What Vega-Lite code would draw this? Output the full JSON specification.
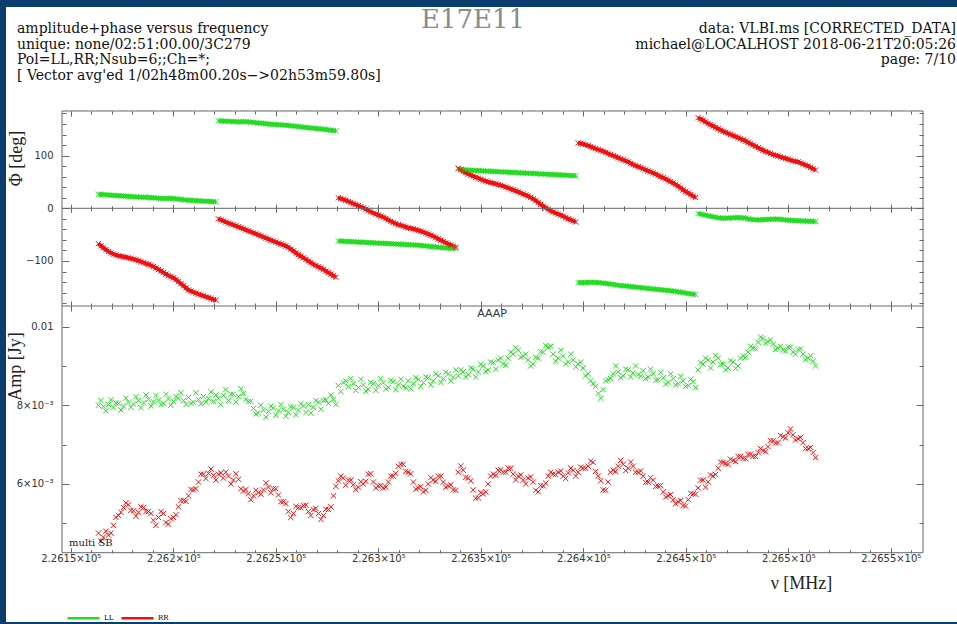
{
"$schema": "https://vega.github.io/schema/vega-lite/v6.json",
"background": "#0b3d6e",
"padding": {"left": 5, "top": 7, "right": 0, "bottom": 2},
"spacing": 0,
"bounds": "flush",
"config": {
  "view": {"fill": "white", "stroke": null},
  "axis": {"labelFont": "DejaVu Sans", "labelFontSize": 10, "labelColor": "#333", "tickColor": "#666", "tickWidth": 1, "domain": false, "grid": false, "titleFont": "Liberation Serif", "titleFontSize": 18, "titleFontWeight": "normal", "titleColor": "#222", "labelFlush": false, "labelOverlap": false}
},
"resolve": {"scale": {"color": "independent"}},
"datasets": {
"chan": [
{"f":226163.5,"pol":"LL","sb":1,"ph":26.5,"amp":0.00800},{"f":226165.9,"pol":"LL","sb":1,"ph":26.0,"amp":0.00797},{"f":226168.4,"pol":"LL","sb":1,"ph":25.2,"amp":0.00802},{"f":226170.8,"pol":"LL","sb":1,"ph":24.5,"amp":0.00795},{"f":226173.3,"pol":"LL","sb":1,"ph":24.0,"amp":0.00805},{"f":226175.7,"pol":"LL","sb":1,"ph":23.3,"amp":0.00798},{"f":226178.1,"pol":"LL","sb":1,"ph":22.6,"amp":0.00808},{"f":226180.6,"pol":"LL","sb":1,"ph":22.0,"amp":0.00803},{"f":226183.0,"pol":"LL","sb":1,"ph":21.5,"amp":0.00812},{"f":226185.5,"pol":"LL","sb":1,"ph":21.0,"amp":0.00806},{"f":226187.9,"pol":"LL","sb":1,"ph":20.6,"amp":0.00815},{"f":226190.3,"pol":"LL","sb":1,"ph":20.0,"amp":0.00809},{"f":226192.8,"pol":"LL","sb":1,"ph":19.2,"amp":0.00813},{"f":226195.2,"pol":"LL","sb":1,"ph":18.6,"amp":0.00805},{"f":226197.6,"pol":"LL","sb":1,"ph":19.0,"amp":0.00816},{"f":226200.1,"pol":"LL","sb":1,"ph":18.5,"amp":0.00810},{"f":226202.5,"pol":"LL","sb":1,"ph":17.4,"amp":0.00818},{"f":226205.0,"pol":"LL","sb":1,"ph":16.2,"amp":0.00812},{"f":226207.4,"pol":"LL","sb":1,"ph":15.5,"amp":0.00820},{"f":226209.8,"pol":"LL","sb":1,"ph":14.8,"amp":0.00808},{"f":226212.3,"pol":"LL","sb":1,"ph":14.3,"amp":0.00815},{"f":226214.7,"pol":"LL","sb":1,"ph":13.8,"amp":0.00822},{"f":226217.2,"pol":"LL","sb":1,"ph":13.2,"amp":0.00817},{"f":226219.6,"pol":"LL","sb":1,"ph":12.6,"amp":0.00810},
{"f":226222.0,"pol":"LL","sb":2,"ph":166,"amp":0.00818},{"f":226224.4,"pol":"LL","sb":2,"ph":165.5,"amp":0.00825},{"f":226226.9,"pol":"LL","sb":2,"ph":165,"amp":0.00812},{"f":226229.3,"pol":"LL","sb":2,"ph":164.5,"amp":0.00828},{"f":226231.8,"pol":"LL","sb":2,"ph":164,"amp":0.00822},{"f":226234.2,"pol":"LL","sb":2,"ph":164.5,"amp":0.00830},{"f":226236.6,"pol":"LL","sb":2,"ph":164,"amp":0.00810},{"f":226239.1,"pol":"LL","sb":2,"ph":163,"amp":0.00792},{"f":226241.5,"pol":"LL","sb":2,"ph":162,"amp":0.00780},{"f":226244.0,"pol":"LL","sb":2,"ph":161,"amp":0.00788},{"f":226246.4,"pol":"LL","sb":2,"ph":160,"amp":0.00784},{"f":226248.8,"pol":"LL","sb":2,"ph":159,"amp":0.00793},{"f":226251.3,"pol":"LL","sb":2,"ph":158.5,"amp":0.00786},{"f":226253.7,"pol":"LL","sb":2,"ph":158,"amp":0.00790},{"f":226256.1,"pol":"LL","sb":2,"ph":157,"amp":0.00782},{"f":226258.6,"pol":"LL","sb":2,"ph":156,"amp":0.00795},{"f":226261.0,"pol":"LL","sb":2,"ph":155,"amp":0.00788},{"f":226263.5,"pol":"LL","sb":2,"ph":154,"amp":0.00798},{"f":226265.9,"pol":"LL","sb":2,"ph":153,"amp":0.00802},{"f":226268.3,"pol":"LL","sb":2,"ph":152,"amp":0.00795},{"f":226270.8,"pol":"LL","sb":2,"ph":151,"amp":0.00808},{"f":226273.2,"pol":"LL","sb":2,"ph":150,"amp":0.00812},{"f":226275.7,"pol":"LL","sb":2,"ph":149,"amp":0.00805},{"f":226278.1,"pol":"LL","sb":2,"ph":147.5,"amp":0.00815},
{"f":226280.5,"pol":"LL","sb":3,"ph":-62,"amp":0.00850},{"f":226282.9,"pol":"LL","sb":3,"ph":-62.5,"amp":0.00858},{"f":226285.4,"pol":"LL","sb":3,"ph":-63,"amp":0.00848},{"f":226287.8,"pol":"LL","sb":3,"ph":-63.5,"amp":0.00855},{"f":226290.3,"pol":"LL","sb":3,"ph":-64,"amp":0.00845},{"f":226292.7,"pol":"LL","sb":3,"ph":-64.5,"amp":0.00852},{"f":226295.1,"pol":"LL","sb":3,"ph":-65,"amp":0.00840},{"f":226297.6,"pol":"LL","sb":3,"ph":-65.5,"amp":0.00855},{"f":226300.0,"pol":"LL","sb":3,"ph":-66,"amp":0.00850},{"f":226302.5,"pol":"LL","sb":3,"ph":-66.5,"amp":0.00857},{"f":226304.9,"pol":"LL","sb":3,"ph":-67,"amp":0.00845},{"f":226307.3,"pol":"LL","sb":3,"ph":-67.5,"amp":0.00860},{"f":226309.8,"pol":"LL","sb":3,"ph":-68,"amp":0.00852},{"f":226312.2,"pol":"LL","sb":3,"ph":-68.5,"amp":0.00848},{"f":226314.6,"pol":"LL","sb":3,"ph":-69,"amp":0.00862},{"f":226317.1,"pol":"LL","sb":3,"ph":-69.5,"amp":0.00855},{"f":226319.5,"pol":"LL","sb":3,"ph":-70,"amp":0.00866},{"f":226322.0,"pol":"LL","sb":3,"ph":-71,"amp":0.00858},{"f":226324.4,"pol":"LL","sb":3,"ph":-72,"amp":0.00870},{"f":226326.8,"pol":"LL","sb":3,"ph":-73,"amp":0.00862},{"f":226329.3,"pol":"LL","sb":3,"ph":-74,"amp":0.00875},{"f":226331.7,"pol":"LL","sb":3,"ph":-75,"amp":0.00868},{"f":226334.2,"pol":"LL","sb":3,"ph":-75.5,"amp":0.00880},{"f":226336.6,"pol":"LL","sb":3,"ph":-76,"amp":0.00872},
{"f":226339.0,"pol":"LL","sb":4,"ph":75,"amp":0.00875},{"f":226341.4,"pol":"LL","sb":4,"ph":73.5,"amp":0.00885},{"f":226343.9,"pol":"LL","sb":4,"ph":72.5,"amp":0.00878},{"f":226346.3,"pol":"LL","sb":4,"ph":72,"amp":0.00892},{"f":226348.8,"pol":"LL","sb":4,"ph":71.5,"amp":0.00885},{"f":226351.2,"pol":"LL","sb":4,"ph":71,"amp":0.00900},{"f":226353.6,"pol":"LL","sb":4,"ph":70.5,"amp":0.00890},{"f":226356.1,"pol":"LL","sb":4,"ph":70,"amp":0.00908},{"f":226358.5,"pol":"LL","sb":4,"ph":69.5,"amp":0.00915},{"f":226361.0,"pol":"LL","sb":4,"ph":69,"amp":0.00905},{"f":226363.4,"pol":"LL","sb":4,"ph":68.5,"amp":0.00920},{"f":226365.8,"pol":"LL","sb":4,"ph":68,"amp":0.00930},{"f":226368.3,"pol":"LL","sb":4,"ph":67.5,"amp":0.00940},{"f":226370.7,"pol":"LL","sb":4,"ph":67,"amp":0.00925},{"f":226373.1,"pol":"LL","sb":4,"ph":66.5,"amp":0.00915},{"f":226375.6,"pol":"LL","sb":4,"ph":66,"amp":0.00905},{"f":226378.0,"pol":"LL","sb":4,"ph":65.5,"amp":0.00920},{"f":226380.5,"pol":"LL","sb":4,"ph":65,"amp":0.00935},{"f":226382.9,"pol":"LL","sb":4,"ph":64.5,"amp":0.00948},{"f":226385.3,"pol":"LL","sb":4,"ph":64,"amp":0.00930},{"f":226387.8,"pol":"LL","sb":4,"ph":63.5,"amp":0.00920},{"f":226390.2,"pol":"LL","sb":4,"ph":63,"amp":0.00925},{"f":226392.7,"pol":"LL","sb":4,"ph":62.5,"amp":0.00910},{"f":226395.1,"pol":"LL","sb":4,"ph":62,"amp":0.00915},
{"f":226397.5,"pol":"LL","sb":5,"ph":-141,"amp":0.00905},{"f":226399.9,"pol":"LL","sb":5,"ph":-141,"amp":0.00895},{"f":226402.4,"pol":"LL","sb":5,"ph":-140.5,"amp":0.00880},{"f":226404.8,"pol":"LL","sb":5,"ph":-140.5,"amp":0.00855},{"f":226407.3,"pol":"LL","sb":5,"ph":-141,"amp":0.00830},{"f":226409.7,"pol":"LL","sb":5,"ph":-142,"amp":0.00840},{"f":226412.1,"pol":"LL","sb":5,"ph":-143,"amp":0.00865},{"f":226414.6,"pol":"LL","sb":5,"ph":-144.5,"amp":0.00880},{"f":226417.0,"pol":"LL","sb":5,"ph":-146,"amp":0.00885},{"f":226419.5,"pol":"LL","sb":5,"ph":-147,"amp":0.00875},{"f":226421.9,"pol":"LL","sb":5,"ph":-148,"amp":0.00890},{"f":226424.3,"pol":"LL","sb":5,"ph":-149,"amp":0.00882},{"f":226426.8,"pol":"LL","sb":5,"ph":-150,"amp":0.00878},{"f":226429.2,"pol":"LL","sb":5,"ph":-151,"amp":0.00888},{"f":226431.6,"pol":"LL","sb":5,"ph":-152,"amp":0.00872},{"f":226434.1,"pol":"LL","sb":5,"ph":-153,"amp":0.00880},{"f":226436.5,"pol":"LL","sb":5,"ph":-154,"amp":0.00865},{"f":226439.0,"pol":"LL","sb":5,"ph":-155,"amp":0.00870},{"f":226441.4,"pol":"LL","sb":5,"ph":-156,"amp":0.00858},{"f":226443.8,"pol":"LL","sb":5,"ph":-157,"amp":0.00868},{"f":226446.3,"pol":"LL","sb":5,"ph":-158.5,"amp":0.00855},{"f":226448.7,"pol":"LL","sb":5,"ph":-160,"amp":0.00862},{"f":226451.2,"pol":"LL","sb":5,"ph":-161.5,"amp":0.00850},{"f":226453.6,"pol":"LL","sb":5,"ph":-163,"amp":0.00860},
{"f":226456.0,"pol":"LL","sb":6,"ph":-10,"amp":0.00890},{"f":226458.4,"pol":"LL","sb":6,"ph":-12,"amp":0.00905},{"f":226460.9,"pol":"LL","sb":6,"ph":-14,"amp":0.00915},{"f":226463.3,"pol":"LL","sb":6,"ph":-16,"amp":0.00910},{"f":226465.8,"pol":"LL","sb":6,"ph":-18,"amp":0.00920},{"f":226468.2,"pol":"LL","sb":6,"ph":-19,"amp":0.00905},{"f":226470.6,"pol":"LL","sb":6,"ph":-18.5,"amp":0.00895},{"f":226473.1,"pol":"LL","sb":6,"ph":-18,"amp":0.00910},{"f":226475.5,"pol":"LL","sb":6,"ph":-17.5,"amp":0.00900},{"f":226478.0,"pol":"LL","sb":6,"ph":-18,"amp":0.00925},{"f":226480.4,"pol":"LL","sb":6,"ph":-20,"amp":0.00935},{"f":226482.8,"pol":"LL","sb":6,"ph":-21.5,"amp":0.00945},{"f":226485.3,"pol":"LL","sb":6,"ph":-22,"amp":0.00960},{"f":226487.7,"pol":"LL","sb":6,"ph":-21.5,"amp":0.00970},{"f":226490.1,"pol":"LL","sb":6,"ph":-21,"amp":0.00962},{"f":226492.6,"pol":"LL","sb":6,"ph":-20.5,"amp":0.00955},{"f":226495.0,"pol":"LL","sb":6,"ph":-20.5,"amp":0.00945},{"f":226497.5,"pol":"LL","sb":6,"ph":-21.5,"amp":0.00940},{"f":226499.9,"pol":"LL","sb":6,"ph":-22.5,"amp":0.00948},{"f":226502.3,"pol":"LL","sb":6,"ph":-23,"amp":0.00935},{"f":226504.8,"pol":"LL","sb":6,"ph":-23.5,"amp":0.00942},{"f":226507.2,"pol":"LL","sb":6,"ph":-24,"amp":0.00930},{"f":226509.7,"pol":"LL","sb":6,"ph":-24.5,"amp":0.00920},{"f":226512.1,"pol":"LL","sb":6,"ph":-25,"amp":0.00912},
{"f":226163.5,"pol":"RR","sb":1,"ph":-67,"amp":0.00475},{"f":226165.9,"pol":"RR","sb":1,"ph":-75,"amp":0.00465},{"f":226168.4,"pol":"RR","sb":1,"ph":-82,"amp":0.00470},{"f":226170.8,"pol":"RR","sb":1,"ph":-87,"amp":0.00495},{"f":226173.3,"pol":"RR","sb":1,"ph":-90,"amp":0.00520},{"f":226175.7,"pol":"RR","sb":1,"ph":-92,"amp":0.00540},{"f":226178.1,"pol":"RR","sb":1,"ph":-94,"amp":0.00547},{"f":226180.6,"pol":"RR","sb":1,"ph":-96.5,"amp":0.00532},{"f":226183.0,"pol":"RR","sb":1,"ph":-99.5,"amp":0.00528},{"f":226185.5,"pol":"RR","sb":1,"ph":-103,"amp":0.00540},{"f":226187.9,"pol":"RR","sb":1,"ph":-106.5,"amp":0.00530},{"f":226190.3,"pol":"RR","sb":1,"ph":-110.5,"amp":0.00508},{"f":226192.8,"pol":"RR","sb":1,"ph":-116,"amp":0.00515},{"f":226195.2,"pol":"RR","sb":1,"ph":-122,"amp":0.00525},{"f":226197.6,"pol":"RR","sb":1,"ph":-127.5,"amp":0.00498},{"f":226200.1,"pol":"RR","sb":1,"ph":-132,"amp":0.00515},{"f":226202.5,"pol":"RR","sb":1,"ph":-139,"amp":0.00542},{"f":226205.0,"pol":"RR","sb":1,"ph":-147,"amp":0.00558},{"f":226207.4,"pol":"RR","sb":1,"ph":-155,"amp":0.00570},{"f":226209.8,"pol":"RR","sb":1,"ph":-159,"amp":0.00585},{"f":226212.3,"pol":"RR","sb":1,"ph":-163,"amp":0.00605},{"f":226214.7,"pol":"RR","sb":1,"ph":-166,"amp":0.00625},{"f":226217.2,"pol":"RR","sb":1,"ph":-169.5,"amp":0.00627},{"f":226219.6,"pol":"RR","sb":1,"ph":-173,"amp":0.00622},
{"f":226222.0,"pol":"RR","sb":2,"ph":-20,"amp":0.00625},{"f":226224.4,"pol":"RR","sb":2,"ph":-24,"amp":0.00615},{"f":226226.9,"pol":"RR","sb":2,"ph":-28,"amp":0.00620},{"f":226229.3,"pol":"RR","sb":2,"ph":-31.5,"amp":0.00610},{"f":226231.8,"pol":"RR","sb":2,"ph":-35,"amp":0.00612},{"f":226234.2,"pol":"RR","sb":2,"ph":-39,"amp":0.00582},{"f":226236.6,"pol":"RR","sb":2,"ph":-43,"amp":0.00575},{"f":226239.1,"pol":"RR","sb":2,"ph":-46.5,"amp":0.00570},{"f":226241.5,"pol":"RR","sb":2,"ph":-50.5,"amp":0.00578},{"f":226244.0,"pol":"RR","sb":2,"ph":-54.5,"amp":0.00585},{"f":226246.4,"pol":"RR","sb":2,"ph":-58.5,"amp":0.00592},{"f":226248.8,"pol":"RR","sb":2,"ph":-62.5,"amp":0.00588},{"f":226251.3,"pol":"RR","sb":2,"ph":-66,"amp":0.00572},{"f":226253.7,"pol":"RR","sb":2,"ph":-69.5,"amp":0.00555},{"f":226256.1,"pol":"RR","sb":2,"ph":-74,"amp":0.00530},{"f":226258.6,"pol":"RR","sb":2,"ph":-81,"amp":0.00525},{"f":226261.0,"pol":"RR","sb":2,"ph":-88,"amp":0.00540},{"f":226263.5,"pol":"RR","sb":2,"ph":-94,"amp":0.00545},{"f":226265.9,"pol":"RR","sb":2,"ph":-100,"amp":0.00530},{"f":226268.3,"pol":"RR","sb":2,"ph":-106,"amp":0.00535},{"f":226270.8,"pol":"RR","sb":2,"ph":-111,"amp":0.00525},{"f":226273.2,"pol":"RR","sb":2,"ph":-116,"amp":0.00520},{"f":226275.7,"pol":"RR","sb":2,"ph":-122,"amp":0.00535},{"f":226278.1,"pol":"RR","sb":2,"ph":-128,"amp":0.00570},
{"f":226280.5,"pol":"RR","sb":3,"ph":20,"amp":0.00608},{"f":226282.9,"pol":"RR","sb":3,"ph":17,"amp":0.00615},{"f":226285.4,"pol":"RR","sb":3,"ph":13,"amp":0.00610},{"f":226287.8,"pol":"RR","sb":3,"ph":9,"amp":0.00598},{"f":226290.3,"pol":"RR","sb":3,"ph":5,"amp":0.00592},{"f":226292.7,"pol":"RR","sb":3,"ph":1,"amp":0.00600},{"f":226295.1,"pol":"RR","sb":3,"ph":-4,"amp":0.00625},{"f":226297.6,"pol":"RR","sb":3,"ph":-9,"amp":0.00605},{"f":226300.0,"pol":"RR","sb":3,"ph":-13,"amp":0.00595},{"f":226302.5,"pol":"RR","sb":3,"ph":-17,"amp":0.00590},{"f":226304.9,"pol":"RR","sb":3,"ph":-22,"amp":0.00605},{"f":226307.3,"pol":"RR","sb":3,"ph":-27,"amp":0.00620},{"f":226309.8,"pol":"RR","sb":3,"ph":-31,"amp":0.00645},{"f":226312.2,"pol":"RR","sb":3,"ph":-34,"amp":0.00650},{"f":226314.6,"pol":"RR","sb":3,"ph":-37,"amp":0.00630},{"f":226317.1,"pol":"RR","sb":3,"ph":-39,"amp":0.00605},{"f":226319.5,"pol":"RR","sb":3,"ph":-42,"amp":0.00590},{"f":226322.0,"pol":"RR","sb":3,"ph":-45,"amp":0.00580},{"f":226324.4,"pol":"RR","sb":3,"ph":-49,"amp":0.00600},{"f":226326.8,"pol":"RR","sb":3,"ph":-53,"amp":0.00610},{"f":226329.3,"pol":"RR","sb":3,"ph":-58,"amp":0.00620},{"f":226331.7,"pol":"RR","sb":3,"ph":-63,"amp":0.00605},{"f":226334.2,"pol":"RR","sb":3,"ph":-68,"amp":0.00595},{"f":226336.6,"pol":"RR","sb":3,"ph":-72,"amp":0.00585},
{"f":226339.0,"pol":"RR","sb":4,"ph":76,"amp":0.00630},{"f":226341.4,"pol":"RR","sb":4,"ph":70,"amp":0.00635},{"f":226343.9,"pol":"RR","sb":4,"ph":65,"amp":0.00615},{"f":226346.3,"pol":"RR","sb":4,"ph":61,"amp":0.00585},{"f":226348.8,"pol":"RR","sb":4,"ph":57,"amp":0.00565},{"f":226351.2,"pol":"RR","sb":4,"ph":53,"amp":0.00575},{"f":226353.6,"pol":"RR","sb":4,"ph":50,"amp":0.00600},{"f":226356.1,"pol":"RR","sb":4,"ph":47.5,"amp":0.00625},{"f":226358.5,"pol":"RR","sb":4,"ph":45,"amp":0.00635},{"f":226361.0,"pol":"RR","sb":4,"ph":42,"amp":0.00630},{"f":226363.4,"pol":"RR","sb":4,"ph":38.5,"amp":0.00640},{"f":226365.8,"pol":"RR","sb":4,"ph":35,"amp":0.00625},{"f":226368.3,"pol":"RR","sb":4,"ph":31,"amp":0.00620},{"f":226370.7,"pol":"RR","sb":4,"ph":27,"amp":0.00610},{"f":226373.1,"pol":"RR","sb":4,"ph":23,"amp":0.00615},{"f":226375.6,"pol":"RR","sb":4,"ph":18,"amp":0.00605},{"f":226378.0,"pol":"RR","sb":4,"ph":11,"amp":0.00580},{"f":226380.5,"pol":"RR","sb":4,"ph":4,"amp":0.00595},{"f":226382.9,"pol":"RR","sb":4,"ph":-2,"amp":0.00620},{"f":226385.3,"pol":"RR","sb":4,"ph":-7,"amp":0.00625},{"f":226387.8,"pol":"RR","sb":4,"ph":-11,"amp":0.00630},{"f":226390.2,"pol":"RR","sb":4,"ph":-15,"amp":0.00620},{"f":226392.7,"pol":"RR","sb":4,"ph":-20,"amp":0.00628},{"f":226395.1,"pol":"RR","sb":4,"ph":-24,"amp":0.00635},
{"f":226397.5,"pol":"RR","sb":5,"ph":124,"amp":0.00630},{"f":226399.9,"pol":"RR","sb":5,"ph":122,"amp":0.00640},{"f":226402.4,"pol":"RR","sb":5,"ph":119,"amp":0.00645},{"f":226404.8,"pol":"RR","sb":5,"ph":115,"amp":0.00655},{"f":226407.3,"pol":"RR","sb":5,"ph":111.5,"amp":0.00620},{"f":226409.7,"pol":"RR","sb":5,"ph":108,"amp":0.00585},{"f":226412.1,"pol":"RR","sb":5,"ph":104,"amp":0.00605},{"f":226414.6,"pol":"RR","sb":5,"ph":100,"amp":0.00635},{"f":226417.0,"pol":"RR","sb":5,"ph":96,"amp":0.00645},{"f":226419.5,"pol":"RR","sb":5,"ph":92,"amp":0.00650},{"f":226421.9,"pol":"RR","sb":5,"ph":88,"amp":0.00640},{"f":226424.3,"pol":"RR","sb":5,"ph":83,"amp":0.00645},{"f":226426.8,"pol":"RR","sb":5,"ph":79,"amp":0.00630},{"f":226429.2,"pol":"RR","sb":5,"ph":75,"amp":0.00620},{"f":226431.6,"pol":"RR","sb":5,"ph":71,"amp":0.00605},{"f":226434.1,"pol":"RR","sb":5,"ph":67,"amp":0.00610},{"f":226436.5,"pol":"RR","sb":5,"ph":62.5,"amp":0.00595},{"f":226439.0,"pol":"RR","sb":5,"ph":58,"amp":0.00580},{"f":226441.4,"pol":"RR","sb":5,"ph":53,"amp":0.00570},{"f":226443.8,"pol":"RR","sb":5,"ph":48,"amp":0.00560},{"f":226446.3,"pol":"RR","sb":5,"ph":42,"amp":0.00555},{"f":226448.7,"pol":"RR","sb":5,"ph":35,"amp":0.00545},{"f":226451.2,"pol":"RR","sb":5,"ph":29,"amp":0.00560},{"f":226453.6,"pol":"RR","sb":5,"ph":23,"amp":0.00575},
{"f":226456.0,"pol":"RR","sb":6,"ph":172,"amp":0.00590},{"f":226458.4,"pol":"RR","sb":6,"ph":167,"amp":0.00610},{"f":226460.9,"pol":"RR","sb":6,"ph":161,"amp":0.00605},{"f":226463.3,"pol":"RR","sb":6,"ph":156,"amp":0.00620},{"f":226465.8,"pol":"RR","sb":6,"ph":151,"amp":0.00640},{"f":226468.2,"pol":"RR","sb":6,"ph":146,"amp":0.00655},{"f":226470.6,"pol":"RR","sb":6,"ph":142,"amp":0.00650},{"f":226473.1,"pol":"RR","sb":6,"ph":138,"amp":0.00660},{"f":226475.5,"pol":"RR","sb":6,"ph":134,"amp":0.00670},{"f":226478.0,"pol":"RR","sb":6,"ph":130,"amp":0.00665},{"f":226480.4,"pol":"RR","sb":6,"ph":125,"amp":0.00675},{"f":226482.8,"pol":"RR","sb":6,"ph":120,"amp":0.00670},{"f":226485.3,"pol":"RR","sb":6,"ph":115,"amp":0.00680},{"f":226487.7,"pol":"RR","sb":6,"ph":110,"amp":0.00685},{"f":226490.1,"pol":"RR","sb":6,"ph":106,"amp":0.00695},{"f":226492.6,"pol":"RR","sb":6,"ph":102,"amp":0.00710},{"f":226495.0,"pol":"RR","sb":6,"ph":99,"amp":0.00705},{"f":226497.5,"pol":"RR","sb":6,"ph":96,"amp":0.00720},{"f":226499.9,"pol":"RR","sb":6,"ph":93,"amp":0.00730},{"f":226502.3,"pol":"RR","sb":6,"ph":90,"amp":0.00725},{"f":226504.8,"pol":"RR","sb":6,"ph":88,"amp":0.00715},{"f":226507.2,"pol":"RR","sb":6,"ph":84,"amp":0.00705},{"f":226509.7,"pol":"RR","sb":6,"ph":80,"amp":0.00690},{"f":226512.1,"pol":"RR","sb":6,"ph":75,"amp":0.00680},
{"f":226164.7,"pol":"LL","sb":1,"ph":26.2,"amp":0.00812},{"f":226167.1,"pol":"LL","sb":1,"ph":25.6,"amp":0.00786},{"f":226169.6,"pol":"LL","sb":1,"ph":24.8,"amp":0.00814},{"f":226172.0,"pol":"LL","sb":1,"ph":24.2,"amp":0.00806},{"f":226174.5,"pol":"LL","sb":1,"ph":23.6,"amp":0.00788},{"f":226176.9,"pol":"LL","sb":1,"ph":23.0,"amp":0.00818},{"f":226179.3,"pol":"LL","sb":1,"ph":22.3,"amp":0.00795},{"f":226181.8,"pol":"LL","sb":1,"ph":21.7,"amp":0.00822},{"f":226184.2,"pol":"LL","sb":1,"ph":21.2,"amp":0.00794},{"f":226186.7,"pol":"LL","sb":1,"ph":20.8,"amp":0.00826},{"f":226189.1,"pol":"LL","sb":1,"ph":20.3,"amp":0.00798},{"f":226191.5,"pol":"LL","sb":1,"ph":19.6,"amp":0.00825},{"f":226194.0,"pol":"LL","sb":1,"ph":18.9,"amp":0.00802},{"f":226196.4,"pol":"LL","sb":1,"ph":18.8,"amp":0.00828},{"f":226198.8,"pol":"LL","sb":1,"ph":18.7,"amp":0.00800},{"f":226201.3,"pol":"LL","sb":1,"ph":18.0,"amp":0.00822},{"f":226203.7,"pol":"LL","sb":1,"ph":16.8,"amp":0.00832},{"f":226206.2,"pol":"LL","sb":1,"ph":15.8,"amp":0.00802},{"f":226208.6,"pol":"LL","sb":1,"ph":15.1,"amp":0.00805},{"f":226211.0,"pol":"LL","sb":1,"ph":14.5,"amp":0.00832},{"f":226213.5,"pol":"LL","sb":1,"ph":14.0,"amp":0.00804},{"f":226215.9,"pol":"LL","sb":1,"ph":13.5,"amp":0.00808},{"f":226218.4,"pol":"LL","sb":1,"ph":12.9,"amp":0.00834},{"f":226220.8,"pol":"LL","sb":1,"ph":12.3,"amp":0.00826},
{"f":226223.2,"pol":"LL","sb":2,"ph":165.8,"amp":0.00802},{"f":226225.6,"pol":"LL","sb":2,"ph":165.2,"amp":0.00840},{"f":226228.1,"pol":"LL","sb":2,"ph":164.8,"amp":0.00828},{"f":226230.5,"pol":"LL","sb":2,"ph":164.2,"amp":0.00808},{"f":226233.0,"pol":"LL","sb":2,"ph":164.2,"amp":0.00842},{"f":226235.4,"pol":"LL","sb":2,"ph":164.2,"amp":0.00815},{"f":226237.8,"pol":"LL","sb":2,"ph":163.5,"amp":0.00810},{"f":226240.3,"pol":"LL","sb":2,"ph":162.5,"amp":0.00778},{"f":226242.7,"pol":"LL","sb":2,"ph":161.5,"amp":0.00800},{"f":226245.2,"pol":"LL","sb":2,"ph":160.5,"amp":0.00770},{"f":226247.6,"pol":"LL","sb":2,"ph":159.5,"amp":0.00798},{"f":226250.0,"pol":"LL","sb":2,"ph":158.8,"amp":0.00775},{"f":226252.5,"pol":"LL","sb":2,"ph":158.2,"amp":0.00802},{"f":226254.9,"pol":"LL","sb":2,"ph":157.5,"amp":0.00772},{"f":226257.3,"pol":"LL","sb":2,"ph":156.5,"amp":0.00796},{"f":226259.8,"pol":"LL","sb":2,"ph":155.5,"amp":0.00776},{"f":226262.2,"pol":"LL","sb":2,"ph":154.5,"amp":0.00804},{"f":226264.7,"pol":"LL","sb":2,"ph":153.5,"amp":0.00782},{"f":226267.1,"pol":"LL","sb":2,"ph":152.5,"amp":0.00780},{"f":226269.5,"pol":"LL","sb":2,"ph":151.5,"amp":0.00812},{"f":226272.0,"pol":"LL","sb":2,"ph":150.5,"amp":0.00790},{"f":226274.4,"pol":"LL","sb":2,"ph":149.5,"amp":0.00814},{"f":226276.9,"pol":"LL","sb":2,"ph":148.2,"amp":0.00826},{"f":226279.3,"pol":"LL","sb":2,"ph":147,"amp":0.00802},
{"f":226281.7,"pol":"LL","sb":3,"ph":-62.2,"amp":0.00835},{"f":226284.1,"pol":"LL","sb":3,"ph":-62.8,"amp":0.00862},{"f":226286.6,"pol":"LL","sb":3,"ph":-63.2,"amp":0.00868},{"f":226289.0,"pol":"LL","sb":3,"ph":-63.8,"amp":0.00838},{"f":226291.5,"pol":"LL","sb":3,"ph":-64.2,"amp":0.00866},{"f":226293.9,"pol":"LL","sb":3,"ph":-64.8,"amp":0.00836},{"f":226296.3,"pol":"LL","sb":3,"ph":-65.2,"amp":0.00858},{"f":226298.8,"pol":"LL","sb":3,"ph":-65.8,"amp":0.00838},{"f":226301.2,"pol":"LL","sb":3,"ph":-66.2,"amp":0.00868},{"f":226303.7,"pol":"LL","sb":3,"ph":-66.8,"amp":0.00842},{"f":226306.1,"pol":"LL","sb":3,"ph":-67.2,"amp":0.00863},{"f":226308.5,"pol":"LL","sb":3,"ph":-67.8,"amp":0.00840},{"f":226311.0,"pol":"LL","sb":3,"ph":-68.2,"amp":0.00866},{"f":226313.4,"pol":"LL","sb":3,"ph":-68.8,"amp":0.00845},{"f":226315.8,"pol":"LL","sb":3,"ph":-69.2,"amp":0.00842},{"f":226318.3,"pol":"LL","sb":3,"ph":-69.8,"amp":0.00870},{"f":226320.7,"pol":"LL","sb":3,"ph":-70.5,"amp":0.00848},{"f":226323.2,"pol":"LL","sb":3,"ph":-71.5,"amp":0.00872},{"f":226325.6,"pol":"LL","sb":3,"ph":-72.5,"amp":0.00852},{"f":226328.0,"pol":"LL","sb":3,"ph":-73.5,"amp":0.00880},{"f":226330.5,"pol":"LL","sb":3,"ph":-74.5,"amp":0.00858},{"f":226332.9,"pol":"LL","sb":3,"ph":-75.2,"amp":0.00884},{"f":226335.4,"pol":"LL","sb":3,"ph":-75.8,"amp":0.00862},{"f":226337.8,"pol":"LL","sb":3,"ph":-76.3,"amp":0.00890},
{"f":226340.2,"pol":"LL","sb":4,"ph":74.2,"amp":0.00890},{"f":226342.6,"pol":"LL","sb":4,"ph":73,"amp":0.00872},{"f":226345.1,"pol":"LL","sb":4,"ph":72.2,"amp":0.00895},{"f":226347.5,"pol":"LL","sb":4,"ph":71.8,"amp":0.00872},{"f":226350.0,"pol":"LL","sb":4,"ph":71.2,"amp":0.00904},{"f":226352.4,"pol":"LL","sb":4,"ph":70.8,"amp":0.00886},{"f":226354.8,"pol":"LL","sb":4,"ph":70.2,"amp":0.00910},{"f":226357.3,"pol":"LL","sb":4,"ph":69.8,"amp":0.00892},{"f":226359.7,"pol":"LL","sb":4,"ph":69.2,"amp":0.00920},{"f":226362.2,"pol":"LL","sb":4,"ph":68.8,"amp":0.00902},{"f":226364.6,"pol":"LL","sb":4,"ph":68.2,"amp":0.00935},{"f":226367.0,"pol":"LL","sb":4,"ph":67.8,"amp":0.00946},{"f":226369.5,"pol":"LL","sb":4,"ph":67.2,"amp":0.00922},{"f":226371.9,"pol":"LL","sb":4,"ph":66.8,"amp":0.00930},{"f":226374.3,"pol":"LL","sb":4,"ph":66.2,"amp":0.00900},{"f":226376.8,"pol":"LL","sb":4,"ph":65.8,"amp":0.00922},{"f":226379.2,"pol":"LL","sb":4,"ph":65.2,"amp":0.00936},{"f":226381.7,"pol":"LL","sb":4,"ph":64.8,"amp":0.00952},{"f":226384.1,"pol":"LL","sb":4,"ph":64.2,"amp":0.00950},{"f":226386.5,"pol":"LL","sb":4,"ph":63.8,"amp":0.00912},{"f":226389.0,"pol":"LL","sb":4,"ph":63.2,"amp":0.00940},{"f":226391.4,"pol":"LL","sb":4,"ph":62.8,"amp":0.00905},{"f":226393.9,"pol":"LL","sb":4,"ph":62.2,"amp":0.00930},{"f":226396.3,"pol":"LL","sb":4,"ph":61.8,"amp":0.00898},
{"f":226398.7,"pol":"LL","sb":5,"ph":-141,"amp":0.00910},{"f":226401.1,"pol":"LL","sb":5,"ph":-140.8,"amp":0.00875},{"f":226403.6,"pol":"LL","sb":5,"ph":-140.5,"amp":0.00862},{"f":226406.0,"pol":"LL","sb":5,"ph":-140.8,"amp":0.00848},{"f":226408.5,"pol":"LL","sb":5,"ph":-141.5,"amp":0.00818},{"f":226410.9,"pol":"LL","sb":5,"ph":-142.5,"amp":0.00862},{"f":226413.3,"pol":"LL","sb":5,"ph":-143.8,"amp":0.00868},{"f":226415.8,"pol":"LL","sb":5,"ph":-145.2,"amp":0.00900},{"f":226418.2,"pol":"LL","sb":5,"ph":-146.5,"amp":0.00870},{"f":226420.7,"pol":"LL","sb":5,"ph":-147.5,"amp":0.00892},{"f":226423.1,"pol":"LL","sb":5,"ph":-148.5,"amp":0.00872},{"f":226425.5,"pol":"LL","sb":5,"ph":-149.5,"amp":0.00900},{"f":226428.0,"pol":"LL","sb":5,"ph":-150.5,"amp":0.00874},{"f":226430.4,"pol":"LL","sb":5,"ph":-151.5,"amp":0.00868},{"f":226432.8,"pol":"LL","sb":5,"ph":-152.5,"amp":0.00892},{"f":226435.3,"pol":"LL","sb":5,"ph":-153.5,"amp":0.00864},{"f":226437.7,"pol":"LL","sb":5,"ph":-154.5,"amp":0.00884},{"f":226440.2,"pol":"LL","sb":5,"ph":-155.5,"amp":0.00854},{"f":226442.6,"pol":"LL","sb":5,"ph":-156.5,"amp":0.00880},{"f":226445.0,"pol":"LL","sb":5,"ph":-157.8,"amp":0.00852},{"f":226447.5,"pol":"LL","sb":5,"ph":-159.2,"amp":0.00874},{"f":226449.9,"pol":"LL","sb":5,"ph":-160.8,"amp":0.00848},{"f":226452.4,"pol":"LL","sb":5,"ph":-162.2,"amp":0.00866},{"f":226454.8,"pol":"LL","sb":5,"ph":-163.8,"amp":0.00845},
{"f":226457.2,"pol":"LL","sb":6,"ph":-11,"amp":0.00908},{"f":226459.6,"pol":"LL","sb":6,"ph":-13,"amp":0.00920},{"f":226462.1,"pol":"LL","sb":6,"ph":-15,"amp":0.00895},{"f":226464.5,"pol":"LL","sb":6,"ph":-17,"amp":0.00926},{"f":226467.0,"pol":"LL","sb":6,"ph":-18.5,"amp":0.00904},{"f":226469.4,"pol":"LL","sb":6,"ph":-18.8,"amp":0.00890},{"f":226471.8,"pol":"LL","sb":6,"ph":-18.2,"amp":0.00913},{"f":226474.3,"pol":"LL","sb":6,"ph":-17.8,"amp":0.00894},{"f":226476.7,"pol":"LL","sb":6,"ph":-17.8,"amp":0.00920},{"f":226479.2,"pol":"LL","sb":6,"ph":-19,"amp":0.00922},{"f":226481.6,"pol":"LL","sb":6,"ph":-20.8,"amp":0.00950},{"f":226484.0,"pol":"LL","sb":6,"ph":-21.8,"amp":0.00944},{"f":226486.5,"pol":"LL","sb":6,"ph":-21.8,"amp":0.00973},{"f":226488.9,"pol":"LL","sb":6,"ph":-21.2,"amp":0.00958},{"f":226491.3,"pol":"LL","sb":6,"ph":-20.8,"amp":0.00966},{"f":226493.8,"pol":"LL","sb":6,"ph":-20.5,"amp":0.00942},{"f":226496.2,"pol":"LL","sb":6,"ph":-21,"amp":0.00950},{"f":226498.7,"pol":"LL","sb":6,"ph":-22,"amp":0.00938},{"f":226501.1,"pol":"LL","sb":6,"ph":-22.8,"amp":0.00948},{"f":226503.5,"pol":"LL","sb":6,"ph":-23.2,"amp":0.00930},{"f":226506.0,"pol":"LL","sb":6,"ph":-23.8,"amp":0.00943},{"f":226508.4,"pol":"LL","sb":6,"ph":-24.2,"amp":0.00917},{"f":226510.9,"pol":"LL","sb":6,"ph":-24.8,"amp":0.00926},{"f":226513.3,"pol":"LL","sb":6,"ph":-25.2,"amp":0.00900},
{"f":226164.7,"pol":"RR","sb":1,"ph":-71,"amp":0.00455},{"f":226167.1,"pol":"RR","sb":1,"ph":-78.5,"amp":0.00480},{"f":226169.6,"pol":"RR","sb":1,"ph":-84.5,"amp":0.00475},{"f":226172.0,"pol":"RR","sb":1,"ph":-88.5,"amp":0.00515},{"f":226174.5,"pol":"RR","sb":1,"ph":-91,"amp":0.00528},{"f":226176.9,"pol":"RR","sb":1,"ph":-93,"amp":0.00552},{"f":226179.3,"pol":"RR","sb":1,"ph":-95.2,"amp":0.00533},{"f":226181.8,"pol":"RR","sb":1,"ph":-98,"amp":0.00518},{"f":226184.2,"pol":"RR","sb":1,"ph":-101.2,"amp":0.00542},{"f":226186.7,"pol":"RR","sb":1,"ph":-104.8,"amp":0.00530},{"f":226189.1,"pol":"RR","sb":1,"ph":-108.5,"amp":0.00525},{"f":226191.5,"pol":"RR","sb":1,"ph":-113.2,"amp":0.00495},{"f":226194.0,"pol":"RR","sb":1,"ph":-119,"amp":0.00530},{"f":226196.4,"pol":"RR","sb":1,"ph":-124.8,"amp":0.00502},{"f":226198.8,"pol":"RR","sb":1,"ph":-129.8,"amp":0.00512},{"f":226201.3,"pol":"RR","sb":1,"ph":-135.5,"amp":0.00522},{"f":226203.7,"pol":"RR","sb":1,"ph":-143,"amp":0.00558},{"f":226206.2,"pol":"RR","sb":1,"ph":-151,"amp":0.00556},{"f":226208.6,"pol":"RR","sb":1,"ph":-157,"amp":0.00586},{"f":226211.0,"pol":"RR","sb":1,"ph":-161,"amp":0.00588},{"f":226213.5,"pol":"RR","sb":1,"ph":-164.5,"amp":0.00625},{"f":226215.9,"pol":"RR","sb":1,"ph":-167.8,"amp":0.00614},{"f":226218.4,"pol":"RR","sb":1,"ph":-171.2,"amp":0.00638},{"f":226220.8,"pol":"RR","sb":1,"ph":-174.5,"amp":0.00610},
{"f":226223.2,"pol":"RR","sb":2,"ph":-22,"amp":0.00628},{"f":226225.6,"pol":"RR","sb":2,"ph":-26,"amp":0.00630},{"f":226228.1,"pol":"RR","sb":2,"ph":-29.8,"amp":0.00600},{"f":226230.5,"pol":"RR","sb":2,"ph":-33.2,"amp":0.00626},{"f":226233.0,"pol":"RR","sb":2,"ph":-37,"amp":0.00588},{"f":226235.4,"pol":"RR","sb":2,"ph":-41,"amp":0.00586},{"f":226237.8,"pol":"RR","sb":2,"ph":-44.8,"amp":0.00560},{"f":226240.3,"pol":"RR","sb":2,"ph":-48.5,"amp":0.00584},{"f":226242.7,"pol":"RR","sb":2,"ph":-52.5,"amp":0.00574},{"f":226245.2,"pol":"RR","sb":2,"ph":-56.5,"amp":0.00603},{"f":226247.6,"pol":"RR","sb":2,"ph":-60.5,"amp":0.00578},{"f":226250.0,"pol":"RR","sb":2,"ph":-64.2,"amp":0.00588},{"f":226252.5,"pol":"RR","sb":2,"ph":-67.8,"amp":0.00555},{"f":226254.9,"pol":"RR","sb":2,"ph":-71.8,"amp":0.00550},{"f":226257.3,"pol":"RR","sb":2,"ph":-77.5,"amp":0.00515},{"f":226259.8,"pol":"RR","sb":2,"ph":-84.5,"amp":0.00543},{"f":226262.2,"pol":"RR","sb":2,"ph":-91,"amp":0.00540},{"f":226264.7,"pol":"RR","sb":2,"ph":-97,"amp":0.00546},{"f":226267.1,"pol":"RR","sb":2,"ph":-103,"amp":0.00520},{"f":226269.5,"pol":"RR","sb":2,"ph":-108.5,"amp":0.00538},{"f":226272.0,"pol":"RR","sb":2,"ph":-113.5,"amp":0.00510},{"f":226274.4,"pol":"RR","sb":2,"ph":-119,"amp":0.00536},{"f":226276.9,"pol":"RR","sb":2,"ph":-125,"amp":0.00542},{"f":226279.3,"pol":"RR","sb":2,"ph":-131,"amp":0.00594},
{"f":226281.7,"pol":"RR","sb":3,"ph":18.5,"amp":0.00620},{"f":226284.1,"pol":"RR","sb":3,"ph":15,"amp":0.00597},{"f":226286.6,"pol":"RR","sb":3,"ph":11,"amp":0.00610},{"f":226289.0,"pol":"RR","sb":3,"ph":7,"amp":0.00586},{"f":226291.5,"pol":"RR","sb":3,"ph":3,"amp":0.00606},{"f":226293.9,"pol":"RR","sb":3,"ph":-1.5,"amp":0.00607},{"f":226296.3,"pol":"RR","sb":3,"ph":-6.5,"amp":0.00626},{"f":226298.8,"pol":"RR","sb":3,"ph":-11,"amp":0.00590},{"f":226301.2,"pol":"RR","sb":3,"ph":-15,"amp":0.00596},{"f":226303.7,"pol":"RR","sb":3,"ph":-19.5,"amp":0.00592},{"f":226306.1,"pol":"RR","sb":3,"ph":-24.5,"amp":0.00620},{"f":226308.5,"pol":"RR","sb":3,"ph":-29,"amp":0.00627},{"f":226311.0,"pol":"RR","sb":3,"ph":-32.5,"amp":0.00650},{"f":226313.4,"pol":"RR","sb":3,"ph":-35.5,"amp":0.00632},{"f":226315.8,"pol":"RR","sb":3,"ph":-38,"amp":0.00626},{"f":226318.3,"pol":"RR","sb":3,"ph":-40.5,"amp":0.00587},{"f":226320.7,"pol":"RR","sb":3,"ph":-43.5,"amp":0.00593},{"f":226323.2,"pol":"RR","sb":3,"ph":-47,"amp":0.00584},{"f":226325.6,"pol":"RR","sb":3,"ph":-51,"amp":0.00616},{"f":226328.0,"pol":"RR","sb":3,"ph":-55.5,"amp":0.00607},{"f":226330.5,"pol":"RR","sb":3,"ph":-60.5,"amp":0.00620},{"f":226332.9,"pol":"RR","sb":3,"ph":-65.5,"amp":0.00592},{"f":226335.4,"pol":"RR","sb":3,"ph":-70,"amp":0.00598},{"f":226337.8,"pol":"RR","sb":3,"ph":-74,"amp":0.00584},
{"f":226340.2,"pol":"RR","sb":4,"ph":73,"amp":0.00646},{"f":226342.6,"pol":"RR","sb":4,"ph":67.5,"amp":0.00617},{"f":226345.1,"pol":"RR","sb":4,"ph":63,"amp":0.00608},{"f":226347.5,"pol":"RR","sb":4,"ph":59,"amp":0.00564},{"f":226350.0,"pol":"RR","sb":4,"ph":55,"amp":0.00578},{"f":226352.4,"pol":"RR","sb":4,"ph":51.5,"amp":0.00580},{"f":226354.8,"pol":"RR","sb":4,"ph":48.8,"amp":0.00620},{"f":226357.3,"pol":"RR","sb":4,"ph":46.2,"amp":0.00622},{"f":226359.7,"pol":"RR","sb":4,"ph":43.5,"amp":0.00636},{"f":226362.2,"pol":"RR","sb":4,"ph":40.2,"amp":0.00630},{"f":226364.6,"pol":"RR","sb":4,"ph":36.8,"amp":0.00640},{"f":226367.0,"pol":"RR","sb":4,"ph":33,"amp":0.00610},{"f":226369.5,"pol":"RR","sb":4,"ph":29,"amp":0.00623},{"f":226371.9,"pol":"RR","sb":4,"ph":25,"amp":0.00600},{"f":226374.3,"pol":"RR","sb":4,"ph":20.5,"amp":0.00618},{"f":226376.8,"pol":"RR","sb":4,"ph":14.5,"amp":0.00584},{"f":226379.2,"pol":"RR","sb":4,"ph":7.5,"amp":0.00596},{"f":226381.7,"pol":"RR","sb":4,"ph":1,"amp":0.00602},{"f":226384.1,"pol":"RR","sb":4,"ph":-4.5,"amp":0.00630},{"f":226386.5,"pol":"RR","sb":4,"ph":-9,"amp":0.00624},{"f":226389.0,"pol":"RR","sb":4,"ph":-13,"amp":0.00633},{"f":226391.4,"pol":"RR","sb":4,"ph":-17.5,"amp":0.00614},{"f":226393.9,"pol":"RR","sb":4,"ph":-22,"amp":0.00640},{"f":226396.3,"pol":"RR","sb":4,"ph":-26,"amp":0.00620},
{"f":226398.7,"pol":"RR","sb":5,"ph":123,"amp":0.00643},{"f":226401.1,"pol":"RR","sb":5,"ph":120.5,"amp":0.00640},{"f":226403.6,"pol":"RR","sb":5,"ph":117,"amp":0.00658},{"f":226406.0,"pol":"RR","sb":5,"ph":113.2,"amp":0.00632},{"f":226408.5,"pol":"RR","sb":5,"ph":109.8,"amp":0.00608},{"f":226410.9,"pol":"RR","sb":5,"ph":106,"amp":0.00584},{"f":226413.3,"pol":"RR","sb":5,"ph":102,"amp":0.00630},{"f":226415.8,"pol":"RR","sb":5,"ph":98,"amp":0.00632},{"f":226418.2,"pol":"RR","sb":5,"ph":94,"amp":0.00660},{"f":226420.7,"pol":"RR","sb":5,"ph":90,"amp":0.00634},{"f":226423.1,"pol":"RR","sb":5,"ph":85.5,"amp":0.00656},{"f":226425.5,"pol":"RR","sb":5,"ph":81,"amp":0.00630},{"f":226428.0,"pol":"RR","sb":5,"ph":77,"amp":0.00633},{"f":226430.4,"pol":"RR","sb":5,"ph":73,"amp":0.00604},{"f":226432.8,"pol":"RR","sb":5,"ph":69,"amp":0.00616},{"f":226435.3,"pol":"RR","sb":5,"ph":64.8,"amp":0.00594},{"f":226437.7,"pol":"RR","sb":5,"ph":60.2,"amp":0.00596},{"f":226440.2,"pol":"RR","sb":5,"ph":55.5,"amp":0.00567},{"f":226442.6,"pol":"RR","sb":5,"ph":50.5,"amp":0.00573},{"f":226445.0,"pol":"RR","sb":5,"ph":45,"amp":0.00550},{"f":226447.5,"pol":"RR","sb":5,"ph":38.5,"amp":0.00558},{"f":226449.9,"pol":"RR","sb":5,"ph":32,"amp":0.00544},{"f":226452.4,"pol":"RR","sb":5,"ph":26,"amp":0.00576},{"f":226454.8,"pol":"RR","sb":5,"ph":20.5,"amp":0.00574},
{"f":226457.2,"pol":"RR","sb":6,"ph":169.5,"amp":0.00610},{"f":226459.6,"pol":"RR","sb":6,"ph":164,"amp":0.00592},{"f":226462.1,"pol":"RR","sb":6,"ph":158.5,"amp":0.00623},{"f":226464.5,"pol":"RR","sb":6,"ph":153.5,"amp":0.00624},{"f":226467.0,"pol":"RR","sb":6,"ph":148.5,"amp":0.00656},{"f":226469.4,"pol":"RR","sb":6,"ph":144,"amp":0.00652},{"f":226471.8,"pol":"RR","sb":6,"ph":140,"amp":0.00663},{"f":226474.3,"pol":"RR","sb":6,"ph":136,"amp":0.00657},{"f":226476.7,"pol":"RR","sb":6,"ph":132,"amp":0.00670},{"f":226479.2,"pol":"RR","sb":6,"ph":127.5,"amp":0.00664},{"f":226481.6,"pol":"RR","sb":6,"ph":122.5,"amp":0.00676},{"f":226484.0,"pol":"RR","sb":6,"ph":117.5,"amp":0.00670},{"f":226486.5,"pol":"RR","sb":6,"ph":112.5,"amp":0.00690},{"f":226488.9,"pol":"RR","sb":6,"ph":108,"amp":0.00682},{"f":226491.3,"pol":"RR","sb":6,"ph":104,"amp":0.00710},{"f":226493.8,"pol":"RR","sb":6,"ph":100.5,"amp":0.00704},{"f":226496.2,"pol":"RR","sb":6,"ph":97.5,"amp":0.00723},{"f":226498.7,"pol":"RR","sb":6,"ph":94.5,"amp":0.00717},{"f":226501.1,"pol":"RR","sb":6,"ph":91.5,"amp":0.00740},{"f":226503.5,"pol":"RR","sb":6,"ph":89,"amp":0.00712},{"f":226506.0,"pol":"RR","sb":6,"ph":86,"amp":0.00718},{"f":226508.4,"pol":"RR","sb":6,"ph":82,"amp":0.00690},{"f":226510.9,"pol":"RR","sb":6,"ph":77.5,"amp":0.00693},{"f":226513.3,"pol":"RR","sb":6,"ph":72.5,"amp":0.00667}
]
},
"vconcat": [
{
  "width": 952, "height": 299,
  "data": {"name": "chan"},
  "resolve": {"axis": {"x": "independent", "y": "independent"}},
  "layer": [
    {
      "mark": {"type": "line", "strokeWidth": 4},
      "encoding": {
        "x": {"field": "f", "type": "quantitative", "scale": {"domain": [226118.39, 226582.78], "nice": false, "zero": false}, "axis": {"orient": "bottom", "offset": -95.2, "tickSize": -5, "labels": false, "title": null, "values": [226150,226160,226170,226180,226190,226200,226210,226220,226230,226240,226250,226260,226270,226280,226290,226300,226310,226320,226330,226340,226350,226360,226370,226380,226390,226400,226410,226420,226430,226440,226450,226460,226470,226480,226490,226500,226510,226520,226530,226540,226550,226560]}},
        "y": {"field": "ph", "type": "quantitative", "scale": {"domain": [-185.39, 381.97], "nice": false, "zero": false}, "axis": null},
        "color": {"field": "pol", "type": "nominal", "scale": {"domain": ["LL", "RR"], "range": ["#22dd22", "#ee1111"]}, "legend": null},
        "detail": {"field": "sb"}
      }
    },
    {
      "mark": {"type": "point", "shape": "M-1,-1L1,1M-1,1L1,-1", "filled": false, "strokeWidth": 1, "size": 28, "opacity": 1},
      "encoding": {
        "x": {"field": "f", "type": "quantitative", "axis": {"orient": "bottom", "offset": 0, "tickSize": -5, "labels": false, "title": null, "values": [226150,226200,226250,226300,226350,226400,226450,226500,226550]}},
        "y": {"field": "ph", "type": "quantitative", "axis": {"orient": "left", "offset": -56, "tickSize": -7, "labelPadding": 16, "values": [-100, 0, 100], "title": "Φ [deg]", "titleX": -46, "titleY": 151, "titleAngle": -90, "titleAlign": "center", "titleBaseline": "middle"}},
        "color": {"field": "pol", "type": "nominal", "legend": null}
      }
    },
    {
      "data": {"values": [{}]},
      "mark": {"type": "rule", "color": "#666", "strokeWidth": 1},
      "encoding": {
        "x": {"datum": 226145.71, "type": "quantitative", "axis": {"orient": "bottom", "offset": 0, "tickSize": -3, "labels": false, "title": null, "values": [226150,226160,226170,226180,226190,226200,226210,226220,226230,226240,226250,226260,226270,226280,226290,226300,226310,226320,226330,226340,226350,226360,226370,226380,226390,226400,226410,226420,226430,226440,226450,226460,226470,226480,226490,226500,226510,226520,226530,226540,226550,226560]}},
        "y": {"datum": 184.63, "type": "quantitative", "axis": {"orient": "left", "offset": -56, "tickSize": -4, "labels": false, "title": null, "values": [-180,-160,-140,-120,-100,-80,-60,-40,-20,0,20,40,60,80,100,120,140,160,180]}},
        "y2": {"datum": -185.39}
      }
    },
    {
      "data": {"values": [{}]},
      "mark": {"type": "rule", "color": "#666", "strokeWidth": 1},
      "encoding": {
        "x": {"datum": 226565.71, "type": "quantitative", "axis": {"orient": "top", "offset": -104, "tickSize": -5, "labels": false, "title": null, "values": [226150,226200,226250,226300,226350,226400,226450,226500,226550]}},
        "y": {"datum": 184.63, "type": "quantitative", "axis": {"orient": "right", "offset": -35, "tickSize": -7, "labels": false, "title": null, "values": [-100, 0, 100]}},
        "y2": {"datum": -185.39}
      }
    },
    {
      "data": {"values": [{}]},
      "mark": {"type": "rule", "color": "#666", "strokeWidth": 1},
      "encoding": {
        "x": {"datum": 226145.71, "type": "quantitative", "axis": {"orient": "top", "offset": -104, "tickSize": -3, "labels": false, "title": null, "values": [226150,226160,226170,226180,226190,226200,226210,226220,226230,226240,226250,226260,226270,226280,226290,226300,226310,226320,226330,226340,226350,226360,226370,226380,226390,226400,226410,226420,226430,226440,226450,226460,226470,226480,226490,226500,226510,226520,226530,226540,226550,226560]}},
        "x2": {"datum": 226565.71},
        "y": {"datum": 184.63, "type": "quantitative", "axis": {"orient": "right", "offset": -35, "tickSize": -4, "labels": false, "title": null, "values": [-180,-160,-140,-120,-100,-80,-60,-40,-20,0,20,40,60,80,100,120,140,160,180]}}
      }
    },
    {
      "data": {"values": [{}]},
      "mark": {"type": "rule", "color": "#666", "strokeWidth": 1},
      "encoding": {
        "x": {"datum": 226145.71, "type": "quantitative", "axis": {"orient": "bottom", "offset": -93.7, "tickSize": -8, "labels": false, "title": null, "values": [226150,226200,226250,226300,226350,226400,226450,226500,226550]}},
        "x2": {"datum": 226565.71},
        "y": {"datum": 0, "type": "quantitative", "axis": null}
      }
    },
    {
      "data": {"values": [{}]},
      "mark": {"type": "text", "text": "E17E11", "font": "DejaVu Serif", "fontSize": 26, "color": "#8a8a8a", "align": "center", "baseline": "alphabetic"},
      "encoding": {
        "x": {"datum": 226346.2, "type": "quantitative", "axis": null},
        "y": {"datum": 341.2, "type": "quantitative", "axis": null}
      }
    },
    {
      "data": {"values": [{}]},
      "mark": {"type": "text", "text": ["amplitude+phase versus frequency", "unique: none/02:51:00.00/3C279", "Pol=LL,RR;Nsub=6;;Ch=*;", "[ Vector avg'ed 1/02h48m00.20s−>02h53m59.80s]"], "font": "DejaVu Serif", "fontSize": 14, "lineHeight": 15.6, "color": "#111", "align": "left", "baseline": "alphabetic"},
      "encoding": {
        "x": {"datum": 226123.76, "type": "quantitative", "axis": null},
        "y": {"datum": 332.07, "type": "quantitative", "axis": null}
      }
    },
    {
      "data": {"values": [{}]},
      "mark": {"type": "text", "text": ["data: VLBI.ms [CORRECTED_DATA]", "michael@LOCALHOST 2018-06-21T20:05:26", "page: 7/10"], "font": "DejaVu Serif", "fontSize": 14, "lineHeight": 15.6, "color": "#111", "align": "right", "baseline": "alphabetic"},
      "encoding": {
        "x": {"datum": 226581.8, "type": "quantitative", "axis": null},
        "y": {"datum": 332.07, "type": "quantitative", "axis": null}
      }
    }
  ]
},
{
  "width": 952, "height": 316,
  "data": {"name": "chan"},
  "resolve": {"axis": {"x": "independent", "y": "independent"}},
  "layer": [
    {
      "mark": {"type": "point", "shape": "M-1,-1L1,1M-1,1L1,-1", "filled": false, "strokeWidth": 1, "size": 28, "opacity": 1},
      "encoding": {
        "x": {"field": "f", "type": "quantitative", "scale": {"domain": [226118.39, 226582.78], "nice": false, "zero": false}, "axis": {"orient": "bottom", "offset": -69.3, "tickSize": -5, "labelPadding": 6, "values": [226150,226200,226250,226300,226350,226400,226450,226500,226550], "labelExpr": "format(datum.value/100000, '.4~f') + '×10⁵'", "title": "ν [MHz]", "titleX": 795, "titleY": 31, "titleAlign": "center", "titleBaseline": "middle"}},
        "y": {"field": "amp", "type": "quantitative", "scale": {"domain": [0.002493, 0.0105235], "nice": false, "zero": false}, "axis": {"orient": "left", "offset": -56, "tickSize": -7, "labelPadding": 16, "values": [0.006, 0.008, 0.01], "labelExpr": "datum.value > 0.0095 ? '0.01' : format(datum.value*1000, '.0f') + '×10⁻³'", "title": "Amp [Jy]", "titleX": -47, "titleY": 60, "titleAngle": -90, "titleAlign": "center", "titleBaseline": "middle"}},
        "color": {"field": "pol", "type": "nominal", "scale": {"domain": ["LL", "RR"], "range": ["#22dd22", "#ee1111"]}, "legend": {"orient": "none", "legendX": 74, "legendY": 308.5, "direction": "horizontal", "title": null, "symbolType": "M-8,0H8", "symbolSize": 16, "symbolStrokeWidth": 2.5, "symbolFillColor": null, "labelFont": "DejaVu Serif", "labelFontSize": 7, "labelOffset": 17, "columnPadding": 2, "padding": 0}}
      }
    },
    {
      "data": {"values": [{}]},
      "mark": {"type": "rule", "color": "#666", "strokeWidth": 1},
      "encoding": {
        "x": {"datum": 226145.71, "type": "quantitative", "axis": {"orient": "bottom", "offset": -69.3, "tickSize": -3, "labels": false, "title": null, "values": [226150,226160,226170,226180,226190,226200,226210,226220,226230,226240,226250,226260,226270,226280,226290,226300,226310,226320,226330,226340,226350,226360,226370,226380,226390,226400,226410,226420,226430,226440,226450,226460,226470,226480,226490,226500,226510,226520,226530,226540,226550,226560]}},
        "y": {"datum": 0.0105235, "type": "quantitative", "axis": {"orient": "left", "offset": -56, "tickSize": -4, "labels": false, "title": null, "values": [0.005, 0.007, 0.009]}},
        "y2": {"datum": 0.004254}
      }
    },
    {
      "data": {"values": [{}]},
      "mark": {"type": "rule", "color": "#666", "strokeWidth": 1},
      "encoding": {
        "x": {"datum": 226565.71, "type": "quantitative", "axis": {"orient": "top", "offset": 0, "tickSize": -5, "labels": false, "title": null, "values": [226150,226200,226250,226300,226350,226400,226450,226500,226550]}},
        "y": {"datum": 0.0105235, "type": "quantitative", "axis": {"orient": "right", "offset": -35, "tickSize": -7, "labels": false, "title": null, "values": [0.006, 0.008, 0.01]}},
        "y2": {"datum": 0.004254}
      }
    },
    {
      "data": {"values": [{}]},
      "mark": {"type": "rule", "color": "#666", "strokeWidth": 1},
      "encoding": {
        "x": {"datum": 226145.71, "type": "quantitative", "axis": {"orient": "top", "offset": 0, "tickSize": -3, "labels": false, "title": null, "values": [226150,226160,226170,226180,226190,226200,226210,226220,226230,226240,226250,226260,226270,226280,226290,226300,226310,226320,226330,226340,226350,226360,226370,226380,226390,226400,226410,226420,226430,226440,226450,226460,226470,226480,226490,226500,226510,226520,226530,226540,226550,226560]}},
        "x2": {"datum": 226565.71},
        "y": {"datum": 0.0105235, "type": "quantitative", "axis": {"orient": "right", "offset": -35, "tickSize": -4, "labels": false, "title": null, "values": [0.005, 0.007, 0.009]}}
      }
    },
    {
      "data": {"values": [{}]},
      "mark": {"type": "rule", "color": "#666", "strokeWidth": 1},
      "encoding": {
        "x": {"datum": 226145.71, "type": "quantitative", "axis": null},
        "x2": {"datum": 226565.71},
        "y": {"datum": 0.004254, "type": "quantitative", "axis": null}
      }
    },
    {
      "data": {"values": [{}]},
      "mark": {"type": "text", "text": "AAAP", "font": "DejaVu Sans", "fontSize": 11, "color": "#333", "align": "center", "baseline": "middle"},
      "encoding": {
        "x": {"datum": 226355.5, "type": "quantitative", "axis": null},
        "y": {"datum": 0.01032, "type": "quantitative", "axis": null}
      }
    },
    {
      "data": {"values": [{}]},
      "mark": {"type": "text", "text": "multi SB", "font": "DejaVu Serif", "fontSize": 10, "color": "#222", "align": "left", "baseline": "middle"},
      "encoding": {
        "x": {"datum": 226149.1, "type": "quantitative", "axis": null},
        "y": {"datum": 0.0045, "type": "quantitative", "axis": null}
      }
    }
  ]
}
]
}
